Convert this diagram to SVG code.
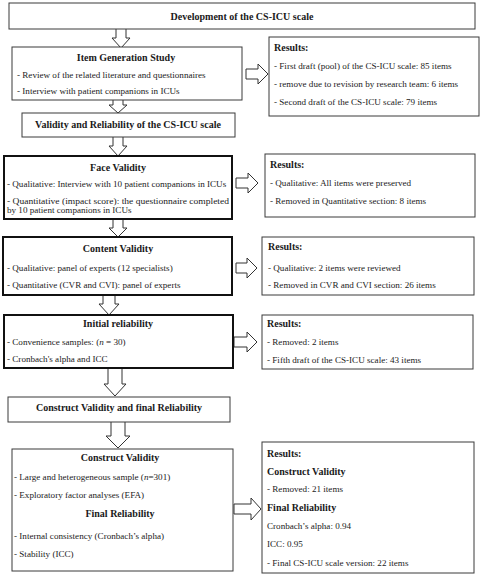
<svg xmlns="http://www.w3.org/2000/svg" width="480" height="579" viewBox="0 0 480 579">
<style>
text{font-family:"Liberation Serif","Times New Roman",serif;font-size:9.1px;fill:#1a1a1a}
.b{font-weight:bold;font-size:10px}
.c{text-anchor:middle}
.box{fill:#fff;stroke:#3a3a3a;stroke-width:1}
.tbox{fill:#fff;stroke:#111;stroke-width:2}
.arr{fill:#fff;stroke:#333;stroke-width:1;stroke-linejoin:miter}
</style>
<rect width="480" height="579" fill="#fff"/>
<g id="connectors">
<path class="arr" d="M116,29 V38 H112 L121,48 L130,38 H126 V29"/>
<path class="arr" d="M113,100 V105 H109 L118,113 L127,105 H123 V100"/>
<path class="arr" d="M113,137 V146 H109 L118,156 L127,146 H123 V137"/>
<path class="arr" d="M113,219 V228 H109 L118,237 L127,228 H123 V219"/>
<path class="arr" d="M103,295 V304 H99 L109,315 L119,304 H115 V295"/>
<path class="arr" d="M108,368 V384 H104 L115,396 L126,384 H122 V368"/>
<path class="arr" d="M111,422 V436 H106 L118,448 L130,436 H125 V422"/>
<path class="arr" d="M246,69 H258 V64 L268,74 L258,84 V79 H246 Z"/>
<path class="arr" d="M236,178 H248 V173 L258,183 L248,193 V188 H236 Z"/>
<path class="arr" d="M236,263 H247 V258 L257,268 L247,278 V273 H236 Z"/>
<path class="arr" d="M234,337 H247 V332 L257,342 L247,352 V347 H234 Z"/>
<path class="arr" d="M234,504 H251 V498 L261,509 L251,520 V514 H234 Z"/>
</g>
<g id="n-dev">
<rect class="box" x="9" y="3" width="466" height="26"/>
<text class="b c" x="242" y="20">Development of the CS-ICU scale</text>
</g>
<g id="n-itemgen">
<rect class="box" x="12" y="47" width="230" height="53"/>
<text class="b c" x="126" y="61">Item Generation Study</text>
<text x="17" y="78">- Review of the related literature and questionnaires</text>
<text x="17" y="94">- Interview with patient companions in ICUs</text>
</g>
<g id="n-res1">
<rect class="box" x="269" y="37" width="210" height="79"/>
<text class="b" x="274" y="51">Results:</text>
<text x="274" y="69">- First draft (pool) of the CS-ICU scale: 85 items</text>
<text x="274" y="87">- remove due to revision by research team: 6 items</text>
<text x="274" y="105">- Second draft of the CS-ICU scale: 79 items</text>
</g>
<g id="n-validity">
<rect class="box" x="22" y="113" width="213" height="24"/>
<text class="b c" x="128" y="128">Validity and Reliability of the CS-ICU scale</text>
</g>
<g id="n-face">
<rect class="tbox" x="4" y="156" width="228" height="63"/>
<text class="b c" x="118" y="171">Face Validity</text>
<text x="7" y="187">- Qualitative: Interview with 10 patient companions in ICUs</text>
<text x="7" y="204" textLength="222" lengthAdjust="spacingAndGlyphs">- Quantitative (impact score): the questionnaire completed</text>
<text x="7" y="213">by 10 patient companions in ICUs</text>
</g>
<g id="n-res2">
<rect class="box" x="265" y="154" width="210" height="63"/>
<text class="b" x="270" y="168">Results:</text>
<text x="270" y="186">- Qualitative: All items were preserved</text>
<text x="270" y="204">- Removed in Quantitative section: 8 items</text>
</g>
<g id="n-content">
<rect class="tbox" x="3" y="237" width="229" height="58"/>
<text class="b c" x="118" y="252">Content Validity</text>
<text x="7" y="271">- Qualitative: panel of experts (12 specialists)</text>
<text x="7" y="288">- Quantitative (CVR and CVI): panel of experts</text>
</g>
<g id="n-res3">
<rect class="box" x="262" y="237" width="212" height="58"/>
<text class="b" x="268" y="250">Results:</text>
<text x="268" y="271">- Qualitative: 2 items were reviewed</text>
<text x="268" y="288">- Removed in CVR and CVI section: 26 items</text>
</g>
<g id="n-initial">
<rect class="tbox" x="4" y="315" width="229" height="53"/>
<text class="b c" x="118" y="327">Initial reliability</text>
<text x="7" y="345">- Convenience samples: (<tspan font-style="italic">n</tspan> = 30)</text>
<text x="7" y="362">- Cronbach's alpha and ICC</text>
</g>
<g id="n-res4">
<rect class="box" x="262" y="315" width="211" height="54"/>
<text class="b" x="267" y="327">Results:</text>
<text x="267" y="345">- Removed: 2 items</text>
<text x="267" y="363">- Fifth draft of the CS-ICU scale: 43 items</text>
</g>
<g id="n-construct-head">
<rect class="box" x="8" y="397" width="222" height="25"/>
<text class="b c" x="119" y="411">Construct Validity and final Reliability</text>
</g>
<g id="n-construct">
<rect class="box" x="12" y="449" width="221" height="122"/>
<text class="b c" x="120" y="461">Construct Validity</text>
<text x="14" y="480">- Large and heterogeneous sample (<tspan font-style="italic">n</tspan>=301)</text>
<text x="14" y="498">- Exploratory factor analyses (EFA)</text>
<text class="b c" x="120" y="517">Final Reliability</text>
<text x="14" y="539">- Internal consistency (Cronbach’s alpha)</text>
<text x="14" y="557">- Stability (ICC)</text>
</g>
<g id="n-res5">
<rect class="box" x="262" y="442" width="212" height="131"/>
<text class="b" x="267" y="457">Results:</text>
<text class="b" x="267" y="475">Construct Validity</text>
<text x="267" y="492">- Removed: 21 items</text>
<text class="b" x="267" y="511">Final Reliability</text>
<text x="267" y="529">Cronbach’s alpha: 0.94</text>
<text x="267" y="547">ICC: 0.95</text>
<text x="267" y="566">- Final CS-ICU scale version: 22 items</text>
</g>
</svg>
